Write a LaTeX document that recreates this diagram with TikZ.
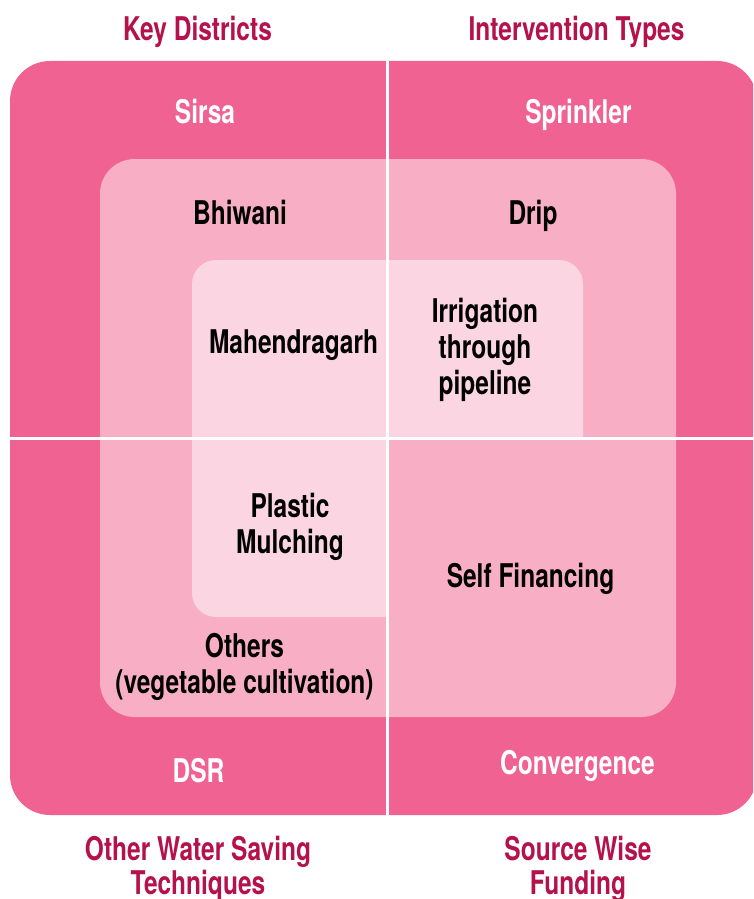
\documentclass[tikz,border=0pt]{standalone}
\usepackage{fontspec}
\setmainfont{TeX Gyre Heros}[FakeStretch=0.75]
\definecolor{outerpink}{HTML}{F06292}
\definecolor{midpink}{HTML}{F8AFC6}
\definecolor{innerpink}{HTML}{FBD5E2}
\definecolor{titlered}{HTML}{B5124B}

\begin{document}
\begin{tikzpicture}[x=0.75pt, y=-0.75pt,
  heading/.style={font=\bfseries\fontsize{24.5}{25.5}\selectfont, titlered, align=center, anchor=base, inner sep=0pt},
  ringlabel/.style={font=\bfseries\fontsize{24.5}{27}\selectfont, white, anchor=base, inner sep=0pt},
  corelabel/.style={font=\bfseries\fontsize{24.5}{27}\selectfont, black, align=center, anchor=base, inner sep=0pt}]

\useasboundingbox (0,0) rectangle (753,899);

% === NESTED PANELS ===
\begin{scope}
  \clip (0,0) rectangle (753,899);
  \fill[outerpink, rounded corners=30] (10,61) rectangle (757,815);
\end{scope}
\fill[midpink, rounded corners=26] (100,159) rectangle (676,717);
\fill[innerpink, rounded corners=18] (192,260) rectangle (583,617);
% core stops at the lower right quadrant
\fill[midpink] (388,438) rectangle (585,619);

% === QUADRANT SPLIT ===
\draw[white, line width=2.25pt] (387.5,61) -- (387.5,815);
\draw[white, line width=2.25pt] (10,438) -- (753,438);

% === HEADINGS (base = last line) ===
\node[heading] (hdistricts) at (197.5,41) {Key Districts};
\node[heading] (htypes) at (576.5,41) {Intervention Types};
\node[heading] (htechniques) at (198,894) {Other Water Saving\\Techniques};
\node[heading] (hfunding) at (578,894) {Source Wise\\Funding};

% === OUTER RING ===
\node[ringlabel] (sirsa) at (205,123) {Sirsa};
\node[ringlabel] (sprinkler) at (578.5,123) {Sprinkler};
\node[ringlabel] (dsr) at (198.5,782) {DSR};
\node[ringlabel] (convergence) at (577.5,774) {Convergence};

% === MIDDLE RING ===
\node[corelabel] (bhiwani) at (240,224) {Bhiwani};
\node[corelabel] (drip) at (533,224) {Drip};
\node[corelabel] (others) at (244.5,693) {Others\\(vegetable cultivation)};
\node[corelabel] (selffin) at (530.5,587) {Self Financing};

% === CORE ===
\node[corelabel] (mahendragarh) at (293.5,353) {Mahendragarh};
\node[corelabel] (pipeline) at (485,394) {Irrigation\\through\\pipeline};
\node[corelabel] (mulching) at (290,553) {Plastic\\Mulching};

\end{tikzpicture}
\end{document}
